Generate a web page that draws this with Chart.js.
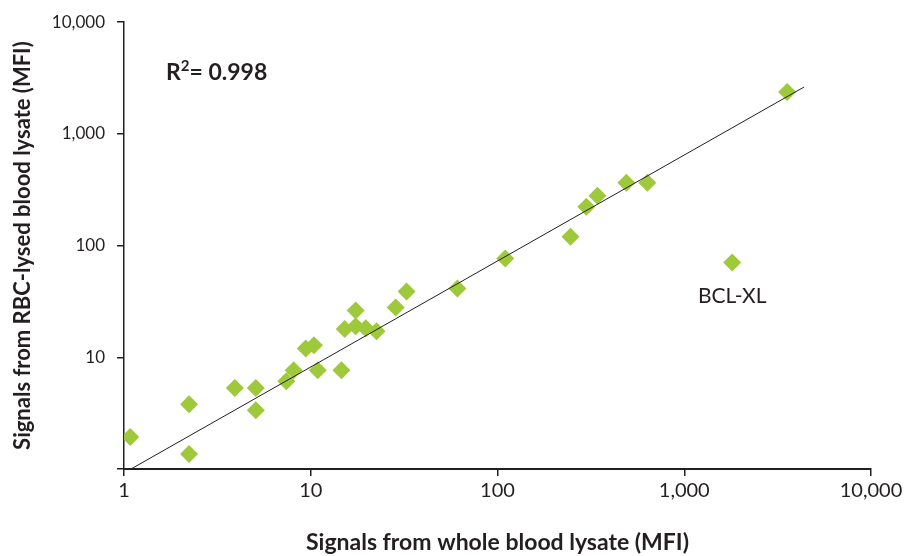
<!DOCTYPE html>
<html>
<head>
<meta charset="utf-8">
<script src="https://cdn.jsdelivr.net/npm/chart.js@4.4.1/dist/chart.umd.min.js"></script>
<style>
  html, body { margin: 0; padding: 0; background: #fff; }
  #wrap { width: 907px; height: 556px; }
</style>
</head>
<body>
<div id="wrap"><canvas id="chart" width="907" height="556"></canvas></div>
<script>
  // values (MFI)
  var wholeBlood = [1.08, 2.23, 2.23, 3.92, 5.08, 5.08, 7.4, 8.1, 9.4, 10.4, 10.9, 14.6, 15.2, 17.4, 17.4, 19.7, 22.5, 28.5, 32.6, 61, 110, 246, 299, 343, 490, 634, 1806, 3555];
  var rbcLysed = [1.93, 3.8, 1.36, 5.3, 5.3, 3.36, 6.1, 7.65, 12.0, 12.8, 7.65, 7.65, 17.9, 19.0, 26.3, 18.2, 17.1, 27.9, 38.8, 41.3, 76.5, 120, 223, 279, 365, 365, 70.5, 2371];
  var trendX = [1.09, 4385];
  var trendY = [1, 2630];
  var tickValues = [1, 10, 100, 1000, 10000];
  var rSquared = '0.998';
  var outlierName = 'BCL-XL';
  var outlierIndex = 26;

  var ink = '#231f20';
  var green = '#9dc93b';
  var fontFamily = 'Lato, "Liberation Sans", sans-serif';

  var points = wholeBlood.map(function (x, i) { return { x: x, y: rbcLysed[i] }; });
  var trend = trendX.map(function (x, i) { return { x: x, y: trendY[i] }; });

  function decadeTicks(scale) {
    scale.ticks = tickValues.map(function (v) { return { value: v }; });
  }
  function withCommas(v) { return Number(v).toLocaleString('en-US'); }

  var notes = {
    id: 'notes',
    afterDatasetsDraw: function (chart) {
      var ctx = chart.ctx;
      ctx.save();
      ctx.fillStyle = ink;
      ctx.textBaseline = 'alphabetic';
      // R squared
      var x = 166, y = 80;
      ctx.font = 'bold 23px ' + fontFamily;
      ctx.textAlign = 'left';
      ctx.fillText('R', x, y);
      x += ctx.measureText('R').width;
      ctx.font = 'bold 15px ' + fontFamily;
      ctx.fillText('2', x, y - 9);
      x += ctx.measureText('2').width;
      ctx.font = 'bold 23px ' + fontFamily;
      ctx.fillText('= ' + rSquared, x, y);
      // outlier label under its point
      var pt = chart.getDatasetMeta(1).data[outlierIndex];
      ctx.font = '21px ' + fontFamily;
      ctx.textAlign = 'center';
      ctx.fillText(outlierName, pt.x, pt.y + 40);
      ctx.restore();
    }
  };

  new Chart(document.getElementById('chart'), {
    type: 'scatter',
    data: {
      datasets: [{
        type: 'line',
        data: trend,
        borderColor: ink,
        borderWidth: 1,
        pointRadius: 0,
        fill: false,
        order: 0
      }, {
        data: points,
        pointStyle: 'rectRot',
        pointRadius: 9,
        pointBackgroundColor: green,
        pointBorderColor: green,
        pointBorderWidth: 0,
        order: 1
      }]
    },
    options: {
      responsive: false,
      animation: false,
      layout: { padding: { left: 0, right: 36, top: 21, bottom: 0 } },
      plugins: { legend: { display: false }, tooltip: { enabled: false } },
      scales: {
        x: {
          type: 'logarithmic',
          min: 1,
          max: 10000,
          afterBuildTicks: decadeTicks,
          afterFit: function (scale) { scale.height = 87; },
          grid: { drawOnChartArea: false, drawTicks: true, tickLength: 7, color: ink, lineWidth: 1.5 },
          border: { display: true, color: ink, width: 2 },
          ticks: {
            color: ink,
            padding: 3,
            maxRotation: 0,
            autoSkip: false,
            font: { family: fontFamily, size: 20 },
            callback: withCommas
          },
          title: {
            display: true,
            text: 'Signals from whole blood lysate (MFI)',
            color: ink,
            padding: { top: 0, bottom: 0 },
            font: { family: fontFamily, size: 23, weight: 'bold' }
          }
        },
        y: {
          type: 'logarithmic',
          min: 1,
          max: 10000,
          afterBuildTicks: decadeTicks,
          afterFit: function (scale) { scale.width = 124; },
          grid: { drawOnChartArea: false, drawTicks: true, tickLength: 7, color: ink, lineWidth: 1.5 },
          border: { display: true, color: ink, width: 1.5 },
          ticks: {
            color: ink,
            padding: 12,
            autoSkip: false,
            font: { family: fontFamily, size: 17 },
            // the reference leaves the bottom "1" unlabeled on this axis
            callback: function (v) { return v === 1 ? '' : withCommas(v); }
          },
          title: {
            display: true,
            text: 'Signals from RBC-lysed blood lysate (MFI)',
            color: ink,
            padding: { top: 10, bottom: 0 },
            font: { family: fontFamily, size: 22, weight: 'bold' }
          }
        }
      }
    },
    plugins: [notes]
  });
</script>
</body>
</html>
